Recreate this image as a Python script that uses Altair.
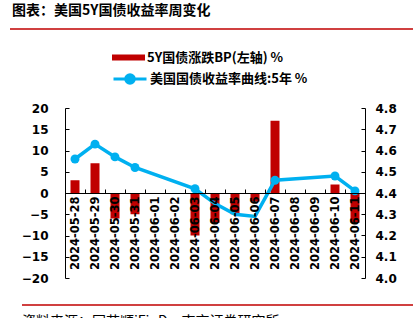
import altair as alt
import pandas as pd

dates = ["2024-05-28", "2024-05-29", "2024-05-30", "2024-05-31", "2024-06-01",
         "2024-06-02", "2024-06-03", "2024-06-04", "2024-06-05", "2024-06-06",
         "2024-06-07", "2024-06-08", "2024-06-09", "2024-06-10", "2024-06-11"]
change_bp = [3, 7, -6, -5, None, None, -10, -7, -5, -2, 17, None, None, 2, -7]
yield_5y = [4.56, 4.63, 4.57, 4.52, None, None, 4.42, 4.35, 4.30, 4.29, 4.46, None, None, 4.48, 4.41]
marker_dates = ["2024-05-28", "2024-05-29", "2024-05-30", "2024-05-31", "2024-06-03",
                "2024-06-07", "2024-06-10", "2024-06-11"]
left_ticks = [-20, -15, -10, -5, 0, 5, 10, 15, 20]
right_ticks = [4.0, 4.1, 4.2, 4.3, 4.4, 4.5, 4.6, 4.7, 4.8]
bar_name = "5Y国债涨跌BP(左轴) %"
line_name = "美国国债收益率曲线:5年 %"
title_text = "图表：美国5Y国债收益率周变化"
source_text = "资料来源：同花顺iFinD，南京证券研究所"

df = pd.DataFrame({"date": dates, "bp": change_bp, "y": yield_5y})
bar_df = df.dropna(subset=["bp"]).assign(series=bar_name)
line_df = df.dropna(subset=["y"]).assign(series=line_name)

RED = "#c00000"
BLUE = "#00b0f0"
NUM_FONT = "DejaVu Sans"
CJK = "Noto Sans CJK SC"

x_enc = alt.X(
    "date:N",
    scale=alt.Scale(domain=dates, paddingInner=0, paddingOuter=0),
    axis=alt.Axis(
        orient="top", offset=-85, title=None, labelAngle=270, labelAlign="right",
        labelBaseline="middle", labelPadding=-7, tickSize=4, tickBand="extent",
        labelFont=NUM_FONT, labelFontWeight="bold", labelFontSize=11.5,
        labelColor="black", domainColor="black", tickColor="black", zindex=1,
        labelOverlap=False,
    ),
)

bars = alt.Chart(bar_df).mark_bar(width=9).encode(
    x=x_enc,
    y=alt.Y(
        "bp:Q",
        scale=alt.Scale(domain=[-20, 20], nice=False),
        axis=alt.Axis(
            orient="right", offset=-300, values=left_ticks, title=None, grid=False,
            labelAlign="right", labelPadding=-21, tickSize=4,
            labelFont=NUM_FONT, labelFontWeight="bold", labelFontSize=12,
            labelColor="black", domainColor="black", tickColor="black",
        ),
    ),
    color=alt.Color(
        "series:N",
        scale=alt.Scale(domain=[bar_name], range=[RED]),
        legend=alt.Legend(
            title=None, orient="none", legendX=47, legendY=-67, padding=0,
            symbolType="M-1,-0.18H1V0.18H-1Z", symbolSize=1089,
            symbolFillColor=RED, symbolStrokeWidth=0,
            labelFont=CJK, labelFontWeight="bold", labelFontSize=13,
            labelColor="black", labelOffset=2,
        ),
    ),
)

y2_enc = alt.Y(
    "y:Q",
    scale=alt.Scale(domain=[4.0, 4.8], nice=False, zero=False),
    axis=alt.Axis(
        orient="left", offset=-300, values=right_ticks, format=".1f", title=None,
        grid=False, labelAlign="left", labelPadding=-14, tickSize=4,
        labelFont=NUM_FONT, labelFontWeight="bold", labelFontSize=12,
        labelColor="black", domainColor="black", tickColor="black",
    ),
)

line = alt.Chart(line_df).mark_line(strokeWidth=3.5).encode(
    x=x_enc,
    y=y2_enc,
    color=alt.Color(
        "series:N",
        scale=alt.Scale(domain=[line_name], range=[BLUE]),
        legend=alt.Legend(
            title=None, orient="none", legendX=47, legendY=-47, padding=0,
            symbolType="M-1,0H1M0.26,0A0.26,0.26,0,1,1,-0.26,0A0.26,0.26,0,1,1,0.26,0Z",
            symbolSize=1089, symbolStrokeWidth=3, symbolFillColor=BLUE,
            symbolStrokeColor=BLUE,
            labelFont=CJK, labelFontWeight="bold", labelFontSize=13,
            labelColor="black", labelOffset=2,
        ),
    ),
)

points = alt.Chart(line_df).transform_filter(
    alt.FieldOneOfPredicate(field="date", oneOf=marker_dates)
).mark_circle(size=80, opacity=1, color=BLUE).encode(
    x=x_enc,
    y=alt.Y("y:Q", scale=alt.Scale(domain=[4.0, 4.8], nice=False, zero=False), axis=None),
)

deco_df = pd.DataFrame({"t": [title_text], "s": [source_text]})
title_mark = alt.Chart(deco_df).mark_text(
    align="left", baseline="middle", font=CJK, fontWeight="bold", fontSize=14, color="black"
).encode(text="t:N", x=alt.value(-53), y=alt.value(-97))
source_mark = alt.Chart(deco_df).mark_text(
    align="left", baseline="top", font=CJK, fontSize=14, color="black"
).encode(text="s:N", x=alt.value(-43), y=alt.value(207))
top_rule = alt.Chart(deco_df).mark_rule(color=RED, strokeWidth=1.5).encode(
    x=alt.value(-55), x2=alt.value(348), y=alt.value(-79))
bottom_rule = alt.Chart(deco_df).mark_rule(color=RED, strokeWidth=1.5).encode(
    x=alt.value(-43), x2=alt.value(348), y=alt.value(197))

chart = alt.layer(
    bars, line, points, title_mark, source_mark, top_rule, bottom_rule
).resolve_scale(y="independent", color="independent").resolve_legend(
    color="independent"
).properties(
    width=300, height=170,
    autosize=alt.AutoSizeParams(type="none"),
    padding={"left": 65, "top": 108, "right": 50, "bottom": 40},
    background="white",
).configure_view(stroke=None)

chart.save("out.html", embed_options={"renderer": "svg", "actions": False})
